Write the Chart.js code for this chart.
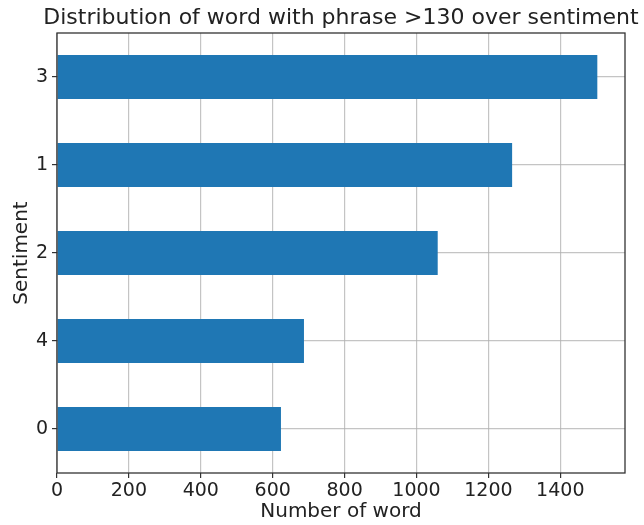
<!DOCTYPE html>
<html>
<head>
<meta charset="utf-8">
<script src="https://cdn.jsdelivr.net/npm/chart.js@4.4.1/dist/chart.umd.min.js"></script>
<style>
  html, body { margin: 0; padding: 0; background: #fff; }
  #wrap { width: 644px; height: 525px; }
</style>
</head>
<body>
<div id="wrap"><canvas id="c" width="644" height="525"></canvas></div>
<script>
// Sentiment classes, listed top to bottom
const sentiments = ['3', '1', '2', '4', '0'];
// Number of words with phrase > 130 per sentiment class
const wordCounts = [1503, 1266, 1059, 687, 623];
// Horizontal axis ticks
const xTicks = [0, 200, 400, 600, 800, 1000, 1200, 1400];
const xMax = 1580;

const chartTitle = 'Distribution of word with phrase >130 over sentiment';

const FONT = 'DejaVu Sans';
const TEXT = '#222';

// Frame around the plotting area, plus the title centred over it
const framePlugin = {
  id: 'frame',
  afterDraw(chart) {
    const { ctx, chartArea: a } = chart;
    ctx.save();
    ctx.strokeStyle = '#333';
    ctx.lineWidth = 1.3;
    ctx.strokeRect(a.left, a.top, a.right - a.left, a.bottom - a.top);

    ctx.fillStyle = TEXT;
    ctx.font = '22px "' + FONT + '"';
    ctx.textAlign = 'center';
    ctx.textBaseline = 'alphabetic';
    ctx.fillText(chartTitle, (a.left + a.right) / 2, 24);
    ctx.restore();
  }
};

new Chart(document.getElementById('c'), {
  type: 'bar',
  data: {
    labels: sentiments,
    datasets: [{
      data: wordCounts,
      backgroundColor: '#1f77b4',
      borderWidth: 0,
      categoryPercentage: 1.0,
      barPercentage: 0.5
    }]
  },
  options: {
    indexAxis: 'y',
    responsive: false,
    animation: false,
    devicePixelRatio: 1,
    layout: { padding: { left: 0, right: 19, top: 33, bottom: 0 } },
    plugins: {
      legend: { display: false },
      tooltip: { enabled: false },
      title: { display: false }
    },
    scales: {
      x: {
        type: 'linear',
        min: 0,
        max: xMax,
        z: 1,
        afterBuildTicks(scale) {
          scale.ticks = xTicks.map(v => ({ value: v }));
        },
        afterFit(scale) { scale.height = 52; },
        ticks: {
          includeBounds: false,
          color: TEXT,
          padding: 2,
          font: { family: FONT, size: 19 },
          callback: v => String(v)
        },
        grid: {
          color: 'rgba(176,176,176,0.75)',
          lineWidth: 1.2,
          tickColor: '#333',
          tickLength: 5
        },
        border: { display: false },
        title: {
          display: true,
          text: 'Number of word',
          color: TEXT,
          font: { family: FONT, size: 20 },
          padding: { top: 0, bottom: 1 }
        }
      },
      y: {
        type: 'category',
        offset: true,
        z: 1,
        afterFit(scale) { scale.width = 57; },
        ticks: {
          color: TEXT,
          padding: 4,
          font: { family: FONT, size: 19 }
        },
        grid: {
          offset: false,
          color: 'rgba(176,176,176,0.75)',
          lineWidth: 1.2,
          tickColor: '#333',
          tickLength: 5
        },
        border: { display: false },
        title: {
          display: true,
          text: 'Sentiment',
          color: TEXT,
          font: { family: FONT, size: 20 },
          padding: { top: 10, bottom: 0 }
        }
      }
    }
  },
  plugins: [framePlugin]
});
</script>
</body>
</html>
